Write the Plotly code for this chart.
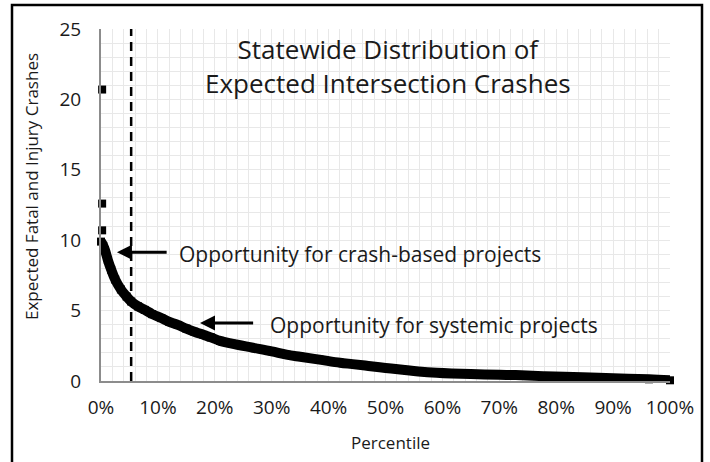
import plotly.graph_objects as go

# Data
percentile = [0.000, 0.004, 0.007, 0.012, 0.018, 0.025, 0.035, 0.045, 0.053, 0.065,
              0.077, 0.090, 0.106, 0.120, 0.135, 0.150, 0.164, 0.180, 0.193, 0.209,
              0.230, 0.267, 0.300, 0.326, 0.350, 0.384, 0.420, 0.442, 0.470, 0.500,
              0.530, 0.558, 0.590, 0.616, 0.650, 0.700, 0.729, 0.780, 0.846, 0.900,
              0.963, 1.000]
expected_crashes = [9.9, 9.6, 9.3, 8.6, 7.9, 7.2, 6.5, 6.0, 5.65, 5.3,
                    5.05, 4.75, 4.47, 4.2, 3.98, 3.72, 3.5, 3.28, 3.1, 2.85,
                    2.65, 2.36, 2.1, 1.87, 1.72, 1.52, 1.3, 1.2, 1.07, 0.93,
                    0.8, 0.68, 0.58, 0.53, 0.49, 0.44, 0.42, 0.34, 0.27, 0.2,
                    0.12, 0.05]
outlier_pct = [0.002, 0.002, 0.002]
outlier_vals = [20.7, 12.6, 10.7]
threshold_pct = 0.053
y_ticks = [0, 5, 10, 15, 20, 25]
x_ticks = [0, 0.1, 0.2, 0.3, 0.4, 0.5, 0.6, 0.7, 0.8, 0.9, 1.0]
x_tick_labels = ["0%", "10%", "20%", "30%", "40%", "50%", "60%", "70%", "80%", "90%", "100%"]

FONT = "Open Sans"
TXT = "#1a1a1a"
L, R, T, B = 101, 40, 29, 81
W, H = 710, 462
pw, ph = W - L - R, H - T - B

fig = go.Figure()

fig.add_trace(go.Scatter(
    x=percentile, y=expected_crashes, mode="lines+markers",
    line=dict(color="black", width=10, shape="spline"),
    marker=dict(symbol="square", size=8, color="black"),
    cliponaxis=False, showlegend=False, hoverinfo="skip"))

fig.add_trace(go.Scatter(
    x=outlier_pct, y=outlier_vals, mode="markers",
    marker=dict(symbol="square", size=8, color="black"),
    cliponaxis=False, showlegend=False, hoverinfo="skip"))

# dashed threshold line
fig.add_trace(go.Scatter(
    x=[threshold_pct, threshold_pct], y=[0, 25], mode="lines",
    line=dict(color="black", width=2.5, dash="9px,6px"),
    showlegend=False, hoverinfo="skip"))

def px_x(p):
    return (p - L) / pw
def px_y(p):
    return (H - B - p) / ph

# outer frame
fig.add_shape(type="rect", xref="paper", yref="paper",
              x0=px_x(12), x1=px_x(702), y0=px_y(475), y1=px_y(5),
              line=dict(color="black", width=2.5), fillcolor="rgba(0,0,0,0)", layer="above")

# title
fig.add_annotation(xref="paper", yref="paper", x=px_x(388), y=px_y(66),
                   text="Statewide Distribution of<br>Expected Intersection Crashes",
                   showarrow=False, font=dict(family=FONT, size=26, color=TXT),
                   align="center", xanchor="center", yanchor="middle")

# axis titles
fig.add_annotation(xref="paper", yref="paper", x=px_x(31), y=px_y(187),
                   text="Expected Fatal and Injury Crashes", textangle=-90,
                   showarrow=False, font=dict(family=FONT, size=17, color=TXT),
                   xanchor="center", yanchor="middle")
fig.add_annotation(xref="paper", yref="paper", x=px_x(390), y=px_y(442),
                   text="Percentile",
                   showarrow=False, font=dict(family=FONT, size=17, color=TXT),
                   xanchor="center", yanchor="middle")

# arrows + labels
fig.add_annotation(x=0.028, y=9.15, ax=0.118, ay=9.15, xref="x", yref="y", axref="x", ayref="y",
                   text="", showarrow=True, arrowhead=2, arrowsize=1, arrowwidth=3, arrowcolor="black")
fig.add_annotation(x=0.133, y=9.0, xref="x", yref="y", text="Opportunity for crash-based projects",
                   showarrow=False, xanchor="left", yanchor="middle",
                   font=dict(family=FONT, size=21, color=TXT))
fig.add_annotation(x=0.174, y=4.12, ax=0.27, ay=4.12, xref="x", yref="y", axref="x", ayref="y",
                   text="", showarrow=True, arrowhead=2, arrowsize=1, arrowwidth=3, arrowcolor="black")
fig.add_annotation(x=0.293, y=4.0, xref="x", yref="y", text="Opportunity for systemic projects",
                   showarrow=False, xanchor="left", yanchor="middle",
                   font=dict(family=FONT, size=21, color=TXT))

grid = "#e8e8e8"
fig.update_layout(
    width=W, height=H, margin=dict(l=L, r=R, t=T, b=B),
    paper_bgcolor="white", plot_bgcolor="white",
    font=dict(family=FONT, color=TXT),
    xaxis=dict(range=[0, 1], tickvals=x_ticks, ticktext=x_tick_labels,
               showgrid=True, gridcolor=grid, gridwidth=1,
               minor=dict(dtick=0.02, showgrid=True, gridcolor=grid, gridwidth=1),
               showline=True, linecolor="#8c8c8c", linewidth=2,
               ticks="outside", ticklen=8, tickcolor="rgba(0,0,0,0)",
               tickfont=dict(family=FONT, size=19, color=TXT), zeroline=False),
    yaxis=dict(range=[0, 25], tickvals=y_ticks,
               showgrid=True, gridcolor=grid, gridwidth=1,
               minor=dict(dtick=1, showgrid=True, gridcolor=grid, gridwidth=1),
               showline=True, linecolor="#8c8c8c", linewidth=2,
               ticks="outside", ticklen=14, tickcolor="rgba(0,0,0,0)",
               tickfont=dict(family=FONT, size=19, color=TXT), zeroline=False),
)

fig.write_html("out.html", config={"displayModeBar": False},
               post_script="document.body.style.margin='0';")
